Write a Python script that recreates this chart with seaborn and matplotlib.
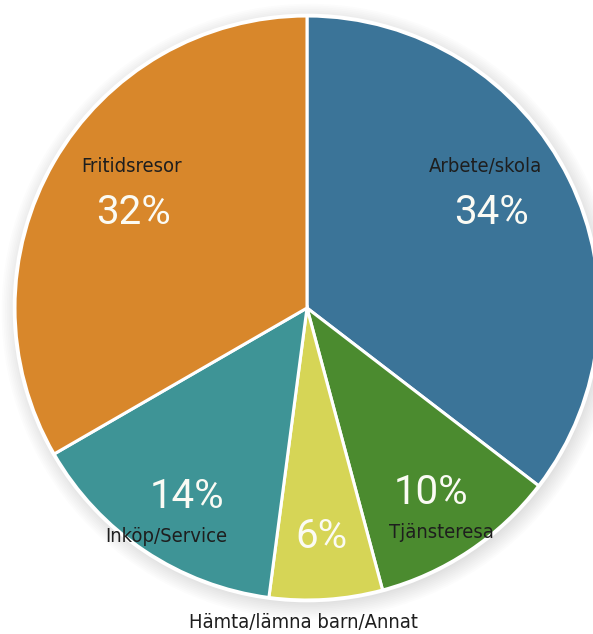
import matplotlib
matplotlib.use("Agg")
import matplotlib.pyplot as plt
import seaborn as sns
from matplotlib.patches import Circle

categories = ["Arbete/skola", "Tjänsteresa", "Hämta/lämna barn/Annat", "Inköp/Service", "Fritidsresor"]
values = [34, 10, 6, 14, 32]
pct_labels = ["34%", "10%", "6%", "14%", "32%"]
colors = ["#3b7498", "#4b8b2f", "#d6d556", "#3e9496", "#d8872b"]

sns.set_theme(style="white")
plt.rcParams["font.family"] = ["DejaVu Sans"]

W, H, DPI = 593, 634, 100
fig = plt.figure(figsize=(W / DPI, H / DPI), dpi=DPI)
ax = fig.add_axes([0, 0, 1, 1])
cx, cy, R = 307, 308, 292
ax.set_aspect("equal")
ax.axis("off")

# soft shadow
for k in range(10):
    ax.add_patch(Circle((0.008, -0.012), 1.0 + k * 0.006, color="#000000",
                        alpha=0.012, lw=0, zorder=0))
ax.add_patch(Circle((0, 0), 1.008, color="white", lw=0, zorder=0.5))

wedges, _ = ax.pie(values, colors=colors, startangle=90, counterclock=False,
                   radius=1.0, wedgeprops=dict(edgecolor="white", linewidth=2.2),
                   frame=False)
for w in wedges:
    w.set_zorder(1)
ax.set_xlim(-cx / R, (W - cx) / R)
ax.set_ylim(-(H - cy) / R, cy / R)

def P(px, py):
    return ((px - cx) / R, (cy - py) / R)

name_pos = [(485, 167), (441, 533), (303, 622), (166, 536), (132, 167)]
pct_pos = [(492, 213), (431, 492), (321, 536), (187, 497), (134, 213)]

for name, (px, py), pl, (qx, qy) in zip(categories, name_pos, pct_labels, pct_pos):
    ax.text(*P(px, py), name, ha="center", va="center", fontsize=14.5, color="#1e1e1e",
            family="DejaVu Sans", fontstretch="condensed", zorder=3)
    ax.text(*P(qx, qy), pl, ha="center", va="center", fontsize=29, color="#fbfbf4",
            family=["Roboto", "DejaVu Sans"], fontweight="normal", zorder=3)

fig.savefig("out.png", dpi=DPI)
